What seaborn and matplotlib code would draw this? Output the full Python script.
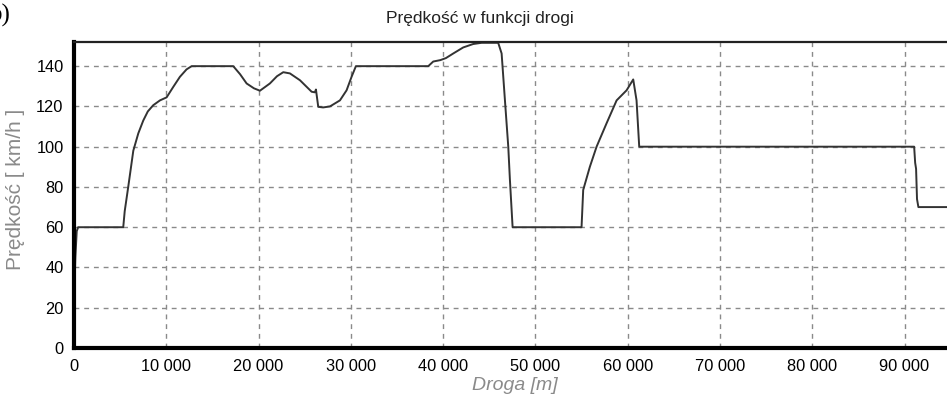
import matplotlib
matplotlib.use("Agg")
import matplotlib.pyplot as plt
from matplotlib.ticker import MultipleLocator, FuncFormatter
import seaborn as sns
import pandas as pd

# distance [m] and speed [km/h]
droga = [0, 150, 300, 450, 5340, 5500, 5880, 6430, 6970, 7510, 8000, 8590, 9320,
         10040, 10760, 11480, 12200, 12750, 17260, 18000, 18710, 19500, 20150,
         21230, 22000, 22680, 23400, 24490, 25750, 26100, 26220, 26470, 27000,
         27740, 28820, 29540, 30080, 30550, 38390, 38930, 39700, 40300, 41100,
         42180, 43260, 44170, 45970, 46340, 46700, 47060, 47240, 47530, 55000,
         55180, 55900, 56630, 57710, 58800, 59880, 60600, 60960, 61250, 91040,
         91150, 91250, 91350, 91500, 96000]
predkosc = [22, 45, 58, 60, 60, 68, 80, 98, 106.6, 113, 117.5, 120.6, 123,
            124.5, 129.7, 134.7, 138.4, 140, 140, 136, 131.4, 129, 127.8,
            131.4, 135, 137, 136.4, 133, 127.3, 127, 128.4, 119.8, 119.5,
            120, 123, 128, 134.7, 140, 140, 142.3, 143, 144, 146.3,
            149.3, 151, 151.6, 151.6, 146.3, 123, 100, 83.4, 60, 60,
            78.5, 90, 100, 111.6, 123, 128, 133.4, 123, 100, 100,
            92, 89, 74, 70, 70]
y_ticks = [0, 20, 40, 60, 80, 100, 120, 140]
x_ticks = [0, 10000, 20000, 30000, 40000, 50000, 60000, 70000, 80000, 90000]

df = pd.DataFrame({"droga": droga, "predkosc": predkosc})

sns.set_style("white")
plt.rcParams["font.family"] = ["Liberation Sans", "DejaVu Sans"]

fig = plt.figure(figsize=(9.47, 4.05), dpi=100)
ax = fig.add_axes([0.0781, 0.1407, 0.9219, 0.7556])

sns.lineplot(data=df, x="droga", y="predkosc", ax=ax, color="#333333",
             linewidth=1.4, estimator=None, sort=False)

ax.set_xlim(0, 94600)
ax.set_ylim(0, 152)
ax.set_xticks(x_ticks)
ax.set_yticks(y_ticks)
ax.xaxis.set_minor_locator(MultipleLocator(2500))
ax.yaxis.set_minor_locator(MultipleLocator(5))
ax.xaxis.set_major_formatter(FuncFormatter(lambda v, p: f"{int(v):,}".replace(",", " ")))
ax.tick_params(axis="both", which="major", labelsize=11.8, length=4, width=1,
               color="#444444", labelcolor="black", direction="out")
ax.tick_params(axis="both", which="minor", length=2, width=1, color="#666666",
               direction="out")
ax.tick_params(axis="x", which="major", pad=4)

ax.grid(True, which="major", color="#8a8a8a", linestyle=(0, (3.5, 3.5)), linewidth=1)

for side in ["left", "bottom"]:
    ax.spines[side].set_linewidth(3)
    ax.spines[side].set_color("black")
ax.spines["top"].set_linewidth(1.6)
ax.spines["top"].set_color("#222222")
ax.spines["right"].set_visible(False)

ax.set_xlabel("Droga [m]", fontsize=14, color="#8a8a8a", style="italic")
ax.set_ylabel("Prędkość [ km/h ]", fontsize=15, color="#8a8a8a")
ax.xaxis.set_label_coords((515 - 74) / 873, -0.095)
ax.yaxis.set_label_coords(-0.056, 0.52)

fig.text(480 / 947, 1 - 18 / 405, "Prędkość w funkcji drogi", ha="center",
         va="center", fontsize=12.5, color="#222222")
fig.text(-0.012, 0.99, "b)", ha="left", va="top", fontsize=18,
         family="Liberation Serif", color="black")

fig.savefig("out.png", dpi=100)
